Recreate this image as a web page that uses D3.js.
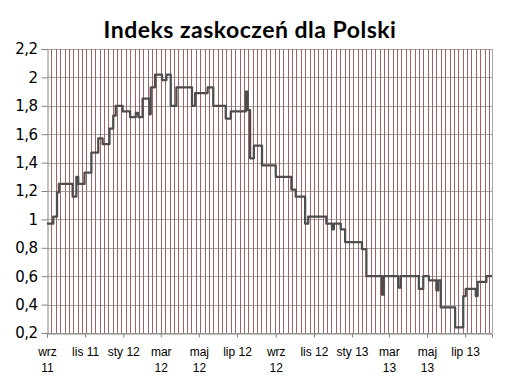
<!DOCTYPE html>
<html>
<head>
<meta charset="utf-8">
<script src="https://cdnjs.cloudflare.com/ajax/libs/d3/7.8.5/d3.min.js"></script>
<style>
  body { margin: 0; background: #fff; }
  svg { display: block; }
</style>
</head>
<body>
<div id="chart"></div>
<script>
// step changes of the index (date of change, value from that date on)
const changeDates = [
  "2011-09-01", "2011-09-11", "2011-09-17", "2011-09-20", "2011-10-12", "2011-10-18",
  "2011-10-21", "2011-10-31", "2011-11-11", "2011-11-22", "2011-11-29", "2011-12-10",
  "2011-12-16", "2011-12-20", "2011-12-31", "2012-01-12", "2012-01-21", "2012-01-25",
  "2012-02-01", "2012-02-12", "2012-02-14", "2012-02-21", "2012-03-03", "2012-03-10",
  "2012-03-17", "2012-03-26", "2012-04-20", "2012-04-25", "2012-05-15", "2012-05-24",
  "2012-06-13", "2012-06-21", "2012-07-15", "2012-07-18", "2012-07-22", "2012-07-28",
  "2012-08-10", "2012-09-01", "2012-09-26", "2012-10-03", "2012-10-18", "2012-10-23",
  "2012-11-21", "2012-11-30", "2012-12-03", "2012-12-14", "2012-12-21", "2013-01-17",
  "2013-01-24", "2013-02-18", "2013-02-21", "2013-03-16", "2013-03-20", "2013-04-18",
  "2013-04-25", "2013-05-04", "2013-05-16", "2013-05-19", "2013-05-23", "2013-06-15",
  "2013-06-28", "2013-07-02", "2013-07-18", "2013-07-21", "2013-08-04", "2013-08-13"
];
const indexValues = [
  0.97, 1.02, 1.19, 1.25, 1.16, 1.30,
  1.25, 1.33, 1.47, 1.57, 1.53, 1.64,
  1.73, 1.80, 1.76, 1.72, 1.75, 1.72,
  1.85, 1.74, 1.93, 2.02, 1.98, 2.02,
  1.80, 1.93, 1.80, 1.89, 1.93, 1.80,
  1.71, 1.76, 1.90, 1.77, 1.43, 1.52,
  1.38, 1.30, 1.21, 1.16, 0.97, 1.02,
  0.97, 0.93, 0.97, 0.93, 0.84, 0.79,
  0.60, 0.47, 0.60, 0.52, 0.60, 0.51,
  0.60, 0.57, 0.50, 0.57, 0.38, 0.24,
  0.46, 0.51, 0.46, 0.56, 0.60, 0.60
];

const yTicks = [0.2, 0.4, 0.6, 0.8, 1, 1.2, 1.4, 1.6, 1.8, 2, 2.2];
const yTickLabels = ["0,2", "0,4", "0,6", "0,8", "1", "1,2", "1,4", "1,6", "1,8", "2", "2,2"];
const xTickLabels = [
  "wrz\n11", "lis 11", "sty 12", "mar\n12", "maj\n12", "lip 12",
  "wrz\n12", "lis 12", "sty 13", "mar\n13", "maj\n13", "lip 13"
];

const margin = { top: 49, right: 28, bottom: 47, left: 47 },
  width = 520 - margin.left - margin.right,
  height = 380 - margin.top - margin.bottom;

const parse = d3.timeParse("%Y-%m-%d");
const data = changeDates.map((d, i) => ({ date: parse(d), value: indexValues[i] }));
const startDate = data[0].date,
  endDate = data[data.length - 1].date;

const svg = d3
  .select("#chart")
  .append("svg")
  .attr("width", 520)
  .attr("height", 380);

const g = svg.append("g").attr("transform", `translate(${margin.left},${margin.top})`);

const x = d3.scaleTime().domain([startDate, endDate]).range([0, width]);
const y = d3.scaleLinear().domain([0.2, 2.2]).range([height, 0]);

// horizontal gridlines
g.append("g")
  .selectAll("line")
  .data(yTicks)
  .join("line")
  .attr("x1", 0)
  .attr("x2", width)
  .attr("y1", (d) => Math.round(y(d)) + 0.5)
  .attr("y2", (d) => Math.round(y(d)) + 0.5)
  .attr("stroke", "#a6a6a6")
  .attr("stroke-width", 1);

// weekly vertical gridlines
const weeks = d3.range(7, d3.timeDay.count(startDate, endDate), 7).map((n) => d3.timeDay.offset(startDate, n));
g.append("g")
  .selectAll("line")
  .data(weeks)
  .join("line")
  .attr("x1", (d) => Math.round(x(d)) + 0.5)
  .attr("x2", (d) => Math.round(x(d)) + 0.5)
  .attr("y1", 0)
  .attr("y2", height)
  .attr("stroke", "#a06464")
  .attr("stroke-width", 1);

// right border of the plot area
g.append("line")
  .attr("x1", width + 0.5)
  .attr("x2", width + 0.5)
  .attr("y1", 0)
  .attr("y2", height)
  .attr("stroke", "#a6a6a6");

// Y axis
const yAxis = g
  .append("g")
  .attr("transform", "translate(0.5,0)")
  .call(
    d3.axisLeft(y)
      .tickValues(yTicks)
      .tickSize(6)
      .tickPadding(4)
      .tickFormat((d, i) => yTickLabels[i])
  );
yAxis.select(".domain").attr("stroke", "#868686");
yAxis.selectAll(".tick line").attr("stroke", "#868686");
yAxis.selectAll(".tick text")
  .attr("fill", "#000")
  .style("font-family", "'DejaVu Sans', sans-serif")
  .style("font-size", "15px")
  .style("letter-spacing", "-0.5px");

// X axis, a tick every two months
const monthTicks = d3.timeMonth.every(2).range(startDate, endDate);
const xAxis = g
  .append("g")
  .attr("transform", `translate(0,${height + 0.5})`)
  .call(d3.axisBottom(x).tickValues(monthTicks).tickSize(4).tickFormat(""));
xAxis.select(".domain").attr("stroke", "#868686");
xAxis.selectAll(".tick line").attr("stroke", "#868686");

xAxis
  .selectAll(".tick")
  .append("text")
  .attr("fill", "#000")
  .attr("text-anchor", "middle")
  .style("font-family", "'Liberation Sans', Arial, sans-serif")
  .style("font-size", "12px")
  .each(function (d, i) {
    const lines = (xTickLabels[i] || "").split("\n");
    d3.select(this)
      .selectAll("tspan")
      .data(lines)
      .join("tspan")
      .attr("x", 0)
      .attr("y", (l, k) => 22 + k * 16)
      .text((l) => l);
  });

// the index line
const line = d3
  .line()
  .x((d) => x(d.date))
  .y((d) => y(d.value))
  .curve(d3.curveStepAfter);

g.append("path")
  .datum(data)
  .attr("fill", "none")
  .attr("stroke", "#4d4d4d")
  .attr("stroke-width", 2.25)
  .attr("stroke-linejoin", "round")
  .attr("d", line);

// Title
svg
  .append("text")
  .attr("x", 250)
  .attr("y", 38)
  .attr("text-anchor", "middle")
  .style("font-family", "Lato, 'Open Sans', sans-serif")
  .style("font-size", "23px")
  .style("font-weight", "bold")
  .style("letter-spacing", "0.5px")
  .text("Indeks zaskoczeń dla Polski");
</script>
</body>
</html>
